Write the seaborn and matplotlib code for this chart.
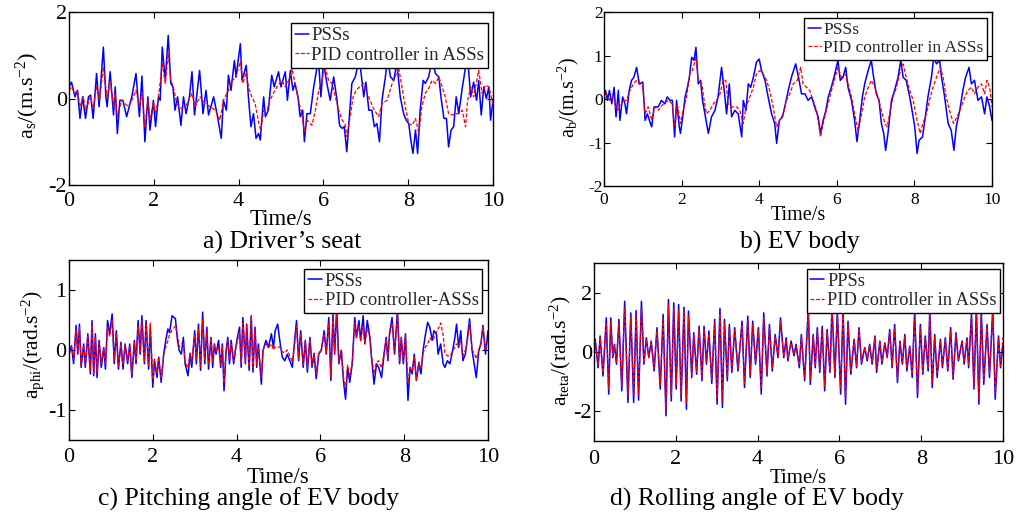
import seaborn as sns
import matplotlib.pyplot as plt

# ---- a) driver's seat ----
seat_pss_t = [0.00, 0.06, 0.14, 0.20, 0.26, 0.32, 0.39, 0.46, 0.51, 0.57,
              0.65, 0.71, 0.81, 0.87, 0.90, 0.97, 1.05, 1.09, 1.14, 1.20,
              1.27, 1.36, 1.48, 1.58, 1.66, 1.72, 1.79, 1.86, 1.91, 1.99,
              2.04, 2.11, 2.15, 2.20, 2.27, 2.34, 2.40, 2.45, 2.50, 2.56,
              2.64, 2.70, 2.76, 2.84, 2.90, 2.96, 3.08, 3.16, 3.23, 3.29,
              3.41, 3.49, 3.59, 3.64, 3.71, 3.76, 3.82, 3.90, 3.94, 4.04,
              4.08, 4.18, 4.23, 4.29, 4.35, 4.41, 4.47, 4.51, 4.59, 4.63,
              4.70, 4.78, 4.84, 4.94, 5.00, 5.04, 5.10, 5.15, 5.22, 5.28,
              5.33, 5.40, 5.45, 5.51, 5.55, 5.61, 5.69, 5.77, 5.85, 5.88,
              5.94, 6.00, 6.08, 6.16, 6.24, 6.32, 6.38, 6.44, 6.49, 6.55,
              6.61, 6.67, 6.75, 6.83, 6.88, 6.95, 7.00, 7.07, 7.14, 7.20,
              7.26, 7.32, 7.38, 7.46, 7.51, 7.58, 7.66, 7.73, 7.81, 7.89,
              7.95, 8.01, 8.06, 8.11, 8.17, 8.22, 8.28, 8.35, 8.40, 8.48,
              8.56, 8.64, 8.72, 8.77, 8.84, 8.90, 8.95, 9.01, 9.07, 9.13,
              9.19, 9.27, 9.35, 9.40, 9.47, 9.54, 9.61, 9.66, 9.72, 9.78,
              9.84, 9.90, 9.94, 10.00]
seat_pss = [0.27, 0.38, 0.04, 0.19, -0.46, 0.04, -0.46, 0.04, 0.08, -0.46,
            0.58, -0.19, 1.19, 0.04, -0.19, 0.62, -0.38, 0.27, -0.81, -0.04,
            -0.04, -0.42, 0.04, 0.58, -0.42, 0.52, -1.00, 0.04, -0.73, -0.04,
            -0.65, 0.04, -0.04, 1.19, 0.42, 1.46, 0.35, 0.27, -0.27, 0.04,
            -0.62, 0.04, -0.35, 0.04, 0.62, -0.38, 0.65, -0.35, 0.19, -0.38,
            0.04, -0.35, -0.92, -0.04, -0.27, 0.54, 0.19, 0.88, 0.50, 1.27,
            0.42, 0.77, 0.04, -0.65, -0.35, -0.92, -0.81, -0.96, 0.04, -0.42,
            -0.27, 0.54, 0.27, 0.62, 0.27, 0.42, 0.62, -0.04, 0.65, 0.19,
            0.35, 0.04, -0.42, -0.27, -1.00, -0.35, -0.35, 0.27, 0.73, 0.95,
            0.04, 0.85, 0.35, -0.04, 0.50, -0.04, -0.62, -0.69, -0.65, -1.23,
            -0.42, 0.35, 0.50, 0.85, 0.65, 0.04, 0.38, -0.27, -0.27, -0.65,
            -0.58, -1.00, -0.04, 0.50, 0.95, 0.50, 0.42, 0.85, 0.04, -0.35,
            -0.50, -0.58, -0.96, -1.27, -0.73, -1.27, -0.27, 0.42, 0.35, 0.50,
            0.90, 0.58, 0.50, 0.04, -0.46, -0.46, -1.12, -0.73, -0.65, 0.04,
            -0.35, 0.23, 0.73, 0.95, 0.04, 0.38, -0.04, 0.42, -0.38, 0.27,
            0.00, 0.27, -0.50, -0.04]
seat_pid_t = [0.00, 0.06, 0.14, 0.20, 0.26, 0.34, 0.39, 0.51, 0.57, 0.65,
              0.72, 0.81, 0.90, 0.97, 1.05, 1.09, 1.14, 1.24, 1.40, 1.48,
              1.58, 1.66, 1.72, 1.79, 1.86, 1.91, 1.99, 2.04, 2.11, 2.20,
              2.27, 2.34, 2.40, 2.46, 2.54, 2.64, 2.74, 2.90, 2.97, 3.09,
              3.21, 3.33, 3.45, 3.56, 3.64, 3.76, 3.84, 3.92, 4.04, 4.10,
              4.18, 4.23, 4.31, 4.39, 4.47, 4.52, 4.59, 4.67, 4.74, 4.82,
              4.90, 5.02, 5.10, 5.18, 5.26, 5.33, 5.41, 5.49, 5.55, 5.61,
              5.73, 5.81, 5.89, 5.96, 6.04, 6.12, 6.20, 6.28, 6.36, 6.44,
              6.51, 6.55, 6.63, 6.70, 6.77, 6.85, 6.95, 7.03, 7.10, 7.18,
              7.30, 7.38, 7.50, 7.62, 7.69, 7.77, 7.85, 7.93, 8.01, 8.09,
              8.17, 8.25, 8.32, 8.40, 8.48, 8.56, 8.64, 8.72, 8.80, 8.87,
              8.95, 9.03, 9.11, 9.19, 9.27, 9.35, 9.40, 9.47, 9.54, 9.66,
              9.74, 9.82, 9.90, 10.00]
seat_pid = [0.19, 0.27, 0.12, 0.19, -0.19, 0.04, -0.27, 0.04, -0.23, 0.27,
            -0.04, 0.73, 0.00, 0.42, -0.19, 0.12, -0.42, -0.04, -0.19, -0.04,
            0.19, -0.19, 0.12, -0.65, -0.04, -0.50, -0.08, -0.35, 0.04, 0.81,
            0.35, 1.04, 0.42, 0.27, -0.12, -0.23, -0.19, 0.12, -0.19, 0.04,
            -0.12, -0.19, -0.27, -0.50, -0.04, 0.19, 0.42, 0.46, 0.85, 0.35,
            0.62, 0.27, 0.04, -0.12, -0.54, -0.73, -0.27, -0.27, -0.04, 0.12,
            0.27, 0.42, 0.27, 0.42, 0.69, 0.35, -0.04, -0.35, -0.77, -0.50,
            -0.62, -0.27, 0.19, 0.42, 0.73, 0.42, 0.35, 0.04, -0.27, -0.50,
            -0.58, -0.88, -0.42, 0.04, 0.19, 0.27, 0.35, 0.12, -0.04, -0.23,
            -0.42, -0.12, -0.04, 0.35, 0.50, 0.73, 0.27, -0.19, -0.58, -0.62,
            -0.46, -0.81, -0.19, 0.12, 0.23, 0.42, 0.35, 0.50, 0.27, 0.04,
            -0.35, -0.38, -0.35, -0.35, -0.27, -0.65, -0.04, 0.27, 0.04, 0.65,
            0.12, 0.31, 0.27, -0.15]

# ---- b) EV body ----
body_pss_t = [0.00, 0.04, 0.09, 0.14, 0.20, 0.26, 0.31, 0.37, 0.41, 0.48,
              0.54, 0.58, 0.65, 0.71, 0.77, 0.84, 0.91, 1.00, 1.06, 1.12,
              1.17, 1.23, 1.29, 1.40, 1.48, 1.57, 1.63, 1.70, 1.76, 1.82,
              1.87, 1.94, 1.97, 2.03, 2.09, 2.15, 2.20, 2.26, 2.32, 2.37,
              2.43, 2.49, 2.54, 2.60, 2.69, 2.77, 2.86, 2.94, 3.03, 3.09,
              3.16, 3.23, 3.29, 3.37, 3.46, 3.55, 3.59, 3.66, 3.72, 3.78,
              3.85, 3.93, 4.00, 4.06, 4.15, 4.23, 4.32, 4.40, 4.45, 4.52,
              4.60, 4.66, 4.75, 4.83, 4.94, 5.03, 5.09, 5.18, 5.26, 5.35,
              5.43, 5.52, 5.58, 5.65, 5.72, 5.78, 5.86, 5.95, 6.03, 6.09,
              6.16, 6.23, 6.29, 6.38, 6.46, 6.52, 6.59, 6.66, 6.72, 6.81,
              6.89, 6.95, 7.02, 7.09, 7.15, 7.21, 7.26, 7.32, 7.41, 7.49,
              7.58, 7.65, 7.71, 7.79, 7.88, 7.97, 8.01, 8.07, 8.12, 8.21,
              8.27, 8.35, 8.44, 8.50, 8.57, 8.65, 8.70, 8.78, 8.87, 8.95,
              9.02, 9.08, 9.17, 9.25, 9.32, 9.41, 9.47, 9.55, 9.64, 9.73,
              9.81, 9.87, 9.94, 10.00]
body_pss = [0.05, 0.20, -0.03, 0.20, -0.11, 0.27, -0.41, 0.20, -0.49, 0.05,
            -0.11, -0.34, 0.20, 0.43, 0.50, 0.73, 0.35, 0.39, -0.49, -0.34,
            -0.49, -0.64, -0.18, -0.18, -0.03, -0.11, 0.05, -0.03, -0.03, -0.87,
            -0.03, -0.64, -0.79, -0.41, 0.05, 0.27, 0.50, 0.96, 0.89, 1.19,
            0.35, 0.43, -0.03, -0.34, -0.79, -0.41, -0.26, 0.05, 0.73, 0.27,
            -0.34, 0.35, -0.41, -0.26, -0.34, -0.87, -0.03, -0.26, 0.35, 0.27,
            0.50, 0.85, 0.92, 0.66, 0.43, 0.05, -0.34, -0.56, -1.02, -0.49,
            -0.41, -0.18, 0.20, 0.50, 0.81, 0.43, 0.12, 0.12, -0.03, 0.05,
            -0.18, -0.41, -0.79, -0.49, -0.26, 0.05, 0.27, 0.58, 0.89, 0.43,
            0.50, 0.73, 0.27, -0.03, -0.49, -0.98, -0.49, 0.05, 0.35, 0.66,
            0.89, 0.50, 0.12, -0.03, -0.56, -0.79, -1.18, -0.79, -0.03, 0.20,
            0.50, 0.89, 0.50, 0.43, 0.05, -0.41, -0.64, -1.25, -0.95, -0.87,
            -0.49, 0.05, 0.50, 0.96, 0.81, 0.89, 0.50, 0.05, -0.56, -0.72,
            -1.18, -0.64, -0.26, 0.20, 0.50, 0.73, 0.35, 0.43, -0.03, 0.05,
            -0.34, 0.05, -0.18, -0.49]
body_pid_t = [0.00, 0.07, 0.15, 0.24, 0.33, 0.41, 0.50, 0.58, 0.67, 0.76,
              0.84, 0.91, 1.00, 1.06, 1.14, 1.23, 1.31, 1.40, 1.53, 1.66,
              1.76, 1.82, 1.89, 1.97, 2.04, 2.13, 2.21, 2.28, 2.37, 2.43,
              2.52, 2.58, 2.64, 2.73, 2.82, 2.90, 2.99, 3.07, 3.14, 3.20,
              3.29, 3.42, 3.50, 3.59, 3.66, 3.76, 3.85, 3.93, 4.02, 4.10,
              4.19, 4.27, 4.36, 4.45, 4.53, 4.62, 4.70, 4.79, 4.88, 4.98,
              5.07, 5.13, 5.22, 5.30, 5.39, 5.48, 5.58, 5.65, 5.73, 5.82,
              5.91, 6.03, 6.12, 6.21, 6.29, 6.38, 6.46, 6.55, 6.64, 6.72,
              6.81, 6.89, 6.98, 7.06, 7.15, 7.24, 7.30, 7.36, 7.45, 7.54,
              7.62, 7.71, 7.79, 7.88, 7.97, 8.07, 8.15, 8.22, 8.31, 8.39,
              8.48, 8.57, 8.67, 8.74, 8.82, 8.93, 9.01, 9.10, 9.21, 9.30,
              9.38, 9.47, 9.55, 9.64, 9.73, 9.81, 9.87, 9.94, 10.00]
body_pid = [-0.03, 0.12, -0.03, 0.05, -0.26, -0.18, -0.03, -0.03, 0.20, 0.35,
            0.43, 0.35, 0.27, -0.34, -0.18, -0.49, -0.18, -0.26, -0.11, -0.03,
            -0.11, -0.64, -0.11, -0.56, -0.26, 0.05, 0.58, 0.66, 0.96, 0.43,
            0.35, -0.03, -0.34, -0.26, -0.11, -0.03, 0.12, 0.43, 0.43, -0.11,
            -0.18, -0.18, -0.26, -0.56, -0.18, 0.05, 0.27, 0.58, 0.66, 0.58,
            0.43, 0.20, -0.18, -0.64, -0.49, -0.34, -0.03, 0.12, 0.35, 0.43,
            0.73, 0.35, 0.27, 0.20, -0.03, -0.26, -0.87, -0.56, -0.26, 0.05,
            0.35, 0.73, 0.50, 0.58, 0.35, 0.05, -0.34, -0.72, -0.34, 0.05,
            0.27, 0.43, 0.27, 0.05, -0.26, -0.56, -0.64, -0.34, 0.05, 0.27,
            0.58, 0.81, 0.50, 0.20, -0.03, -0.49, -0.79, -0.56, -0.34, -0.03,
            0.27, 0.50, 0.73, 0.50, 0.05, -0.34, -0.56, -0.41, -0.18, 0.05,
            0.20, 0.27, 0.12, 0.27, 0.35, 0.12, 0.43, 0.27, -0.18]

# ---- c) pitching angle ----
pitch_t = [0.00, 0.06, 0.11, 0.17, 0.21, 0.25, 0.29, 0.35, 0.39, 0.45,
           0.51, 0.55, 0.59, 0.63, 0.67, 0.72, 0.77, 0.83, 0.87, 0.92,
           0.97, 1.03, 1.08, 1.13, 1.18, 1.24, 1.29, 1.34, 1.40, 1.45,
           1.50, 1.56, 1.60, 1.65, 1.70, 1.74, 1.80, 1.84, 1.90, 1.94,
           2.00, 2.04, 2.10, 2.14, 2.20, 2.26, 2.31, 2.36, 2.40, 2.46,
           2.54, 2.59, 2.63, 2.68, 2.73, 2.77, 2.84, 2.89, 2.93, 3.00,
           3.04, 3.09, 3.14, 3.19, 3.24, 3.29, 3.33, 3.39, 3.43, 3.47,
           3.51, 3.57, 3.62, 3.66, 3.70, 3.75, 3.79, 3.83, 3.87, 3.93,
           3.97, 4.02, 4.07, 4.11, 4.15, 4.21, 4.24, 4.30, 4.35, 4.39,
           4.44, 4.48, 4.52, 4.59, 4.63, 4.70, 4.76, 4.83, 4.88, 4.92,
           4.98,
           5.03, 5.09, 5.15, 5.21, 5.27, 5.33, 5.37, 5.43, 5.48, 5.53,
           5.59, 5.64, 5.69, 5.75, 5.80, 5.85, 5.90, 5.96, 6.02, 6.09,
           6.14, 6.20, 6.25, 6.30, 6.34, 6.39, 6.44, 6.50, 6.55, 6.60,
           6.65, 6.70, 6.76, 6.82, 6.86, 6.92, 6.96, 7.02, 7.06, 7.12,
           7.18, 7.22, 7.28, 7.34, 7.39, 7.46, 7.52, 7.57, 7.61, 7.65,
           7.71, 7.77, 7.84, 7.89, 7.93, 7.98, 8.03, 8.09, 8.14, 8.19,
           8.24, 8.29, 8.35, 8.40, 8.45, 8.51, 8.56, 8.61, 8.67, 8.71,
           8.77, 8.81, 8.87, 8.93, 8.97, 9.03, 9.09, 9.14, 9.21, 9.25,
           9.30, 9.35, 9.40, 9.46, 9.51, 9.56, 9.62, 9.67, 9.72, 9.78,
           9.83, 9.88, 9.94, 10.00]
pitch_pss = [-0.07, 0.07, -0.23, 0.41, -0.07, 0.43, -0.29, 0.10, -0.29, 0.27,
             -0.40, 0.49, -0.43, 0.27, -0.46, 0.16, -0.29, 0.04, -0.32, 0.49,
             0.27, 0.60, -0.23, 0.32, -0.32, 0.13, -0.32, 0.10, -0.23, 0.10,
             -0.46, 0.16, -0.23, 0.49, -0.07, 0.57, -0.23, 0.49, -0.32, 0.38,
             -0.62, -0.18, -0.46, -0.12, -0.54, -0.07, 0.16, 0.35, 0.29, 0.57,
             0.52, 0.16, -0.01, -0.07, 0.21, -0.23, -0.43, -0.07, -0.29, 0.32,
             -0.23, 0.43, -0.34, 0.63, -0.23, 0.38, -0.32, 0.21, -0.29, 0.10,
             -0.07, 0.16, -0.29, 0.10, -0.68, -0.01, 0.21, -0.23, 0.16, -0.23,
             -0.01, 0.21, 0.38, -0.29, 0.54, -0.23, 0.43, -0.34, 0.57, -0.37,
             0.38, -0.29, 0.10, -0.57, -0.01, 0.16, 0.04, 0.27, 0.04, 0.32,
             0.43,
             0.16, -0.12, -0.18, -0.07, -0.18, -0.29, 0.04, 0.49, -0.18, 0.32,
             -0.29, 0.16, -0.37, 0.21, -0.29, -0.07, -0.48, -0.07, -0.01, 0.32,
             -0.07, 0.54, -0.51, 0.60, -0.07, 0.71, -0.23, -0.01, -0.51, -0.82,
             -0.29, -0.54, -0.23, 0.54, 0.21, 0.49, 0.16, 0.57, 0.10, 0.49,
             0.21, -0.12, -0.57, -0.23, -0.29, -0.46, -0.07, 0.21, -0.18, 0.27,
             0.54, -0.07, 0.66, -0.23, 0.21, -0.23, 0.27, -0.84, -0.29, -0.40,
             -0.07, -0.51, -0.23, -0.40, -0.01, 0.27, 0.46, 0.38, 0.16, 0.32,
             0.27, -0.07, 0.10, -0.23, -0.29, -0.18, -0.23, -0.07, 0.21, 0.43,
             0.04, 0.32, -0.18, -0.07, 0.21, 0.52, -0.01, -0.23, -0.46, -0.01,
             0.10, 0.41, -0.07, 0.32]
pitch_pid = [-0.05, 0.05, -0.15, 0.35, -0.05, 0.38, -0.25, 0.08, -0.25, 0.22,
             -0.35, 0.42, -0.38, 0.22, -0.38, 0.12, -0.22, 0.03, -0.25, 0.40,
             0.22, 0.50, -0.18, 0.28, -0.28, 0.10, -0.25, 0.08, -0.18, 0.08,
             -0.40, 0.12, -0.18, 0.40, -0.05, 0.48, -0.20, 0.42, -0.28, 0.45,
             -0.50, -0.15, -0.38, -0.12, -0.48, -0.08, 0.05, 0.15, 0.25, 0.33,
             0.40, 0.25, 0.05, 0.10, 0.10, -0.20, -0.30, -0.05, -0.20, 0.25,
             -0.15, 0.35, -0.28, 0.50, -0.18, 0.30, -0.25, 0.20, -0.20, 0.08,
             -0.02, 0.05, -0.25, 0.05, -0.55, 0.00, 0.15, -0.15, 0.10, -0.18,
             -0.01, 0.15, 0.30, -0.22, 0.45, -0.20, 0.40, -0.28, 0.57, -0.30,
             0.35, -0.25, 0.05, -0.45, 0.00, 0.10, 0.04, 0.10, 0.00, 0.05,
             0.05,
             0.05, -0.03, -0.05, 0.00, -0.10, -0.20, 0.00, 0.40, -0.15, 0.28,
             -0.25, 0.15, -0.30, 0.18, -0.25, -0.05, -0.40, -0.05, 0.00, 0.25,
             -0.05, 0.45, -0.45, 0.55, -0.05, 0.65, -0.20, 0.00, -0.45, -0.65,
             -0.25, -0.45, -0.20, 0.45, 0.20, 0.40, 0.15, 0.40, 0.10, 0.35,
             0.25, -0.10, -0.40, -0.20, -0.18, -0.30, -0.05, 0.18, -0.15, 0.25,
             0.45, -0.05, 0.60, -0.20, 0.20, -0.20, 0.25, -0.55, -0.30, -0.35,
             -0.10, -0.50, -0.20, -0.30, -0.05, 0.05, 0.10, 0.20, 0.15, 0.20,
             0.30, 0.35, 0.45, 0.25, -0.05, -0.10, -0.10, -0.05, 0.05, 0.10,
             0.08, 0.15, -0.10, 0.00, 0.15, 0.45, 0.00, -0.05, -0.15, 0.00,
             0.10, 0.38, 0.00, 0.20]

# ---- d) rolling angle ----
roll_t = [0.00, 0.03, 0.10, 0.15, 0.22, 0.30, 0.36, 0.41, 0.46, 0.50, 0.55,
          0.61, 0.68, 0.75, 0.83, 0.90, 0.97, 1.03, 1.09, 1.16, 1.22,
          1.28, 1.34, 1.40, 1.47, 1.54, 1.62, 1.69, 1.76, 1.82, 1.89,
          1.95, 2.01, 2.07, 2.13, 2.20, 2.26, 2.31, 2.39, 2.44, 2.51,
          2.57, 2.64, 2.69, 2.75, 2.81, 2.88, 2.95, 3.01, 3.08, 3.14,
          3.19, 3.26, 3.31, 3.37, 3.44, 3.52, 3.62, 3.68, 3.76, 3.82,
          3.88, 3.95, 4.02, 4.09, 4.15, 4.23, 4.29, 4.36, 4.43, 4.50,
          4.56, 4.64, 4.70, 4.74, 4.82, 4.89, 4.94, 5.02,
          5.07, 5.15, 5.24, 5.29, 5.36, 5.41, 5.46, 5.52, 5.58, 5.64,
          5.70, 5.77, 5.82, 5.89, 5.95, 6.03, 6.09, 6.15, 6.21, 6.28,
          6.36, 6.42, 6.48, 6.54, 6.62, 6.68, 6.74, 6.80, 6.87, 6.91,
          6.99, 7.04, 7.11, 7.17, 7.23, 7.29, 7.35, 7.42, 7.48, 7.54,
          7.60, 7.65, 7.72, 7.78, 7.84, 7.91, 7.98, 8.04, 8.10, 8.17,
          8.21, 8.27, 8.33, 8.39, 8.47, 8.52, 8.59, 8.65, 8.72, 8.78,
          8.85, 8.91, 9.00, 9.05, 9.12, 9.16, 9.23, 9.29, 9.35, 9.41,
          9.47, 9.53, 9.61, 9.67, 9.75, 9.81, 9.89, 9.94, 10.00]
roll_pss = [0.20, 0.43, -0.53, 0.54, -0.81, 1.15, -1.42, 1.15, -0.19, 0.26, -0.41,
            1.10, -1.31, 1.71, -1.70, 1.32, -1.70, 1.40, -1.62, 1.71, -0.41,
            0.48, -0.19, 0.37, -0.64, 0.82, -1.25, 1.27, -2.15, 1.77, -1.65,
            1.66, -1.25, 1.60, -1.65, 1.51, -1.93, 1.38, -0.86, 0.65, -0.75,
            0.87, -0.97, 0.87, -0.41, 0.71, -1.06, 1.10, -1.76, 1.47, -1.87,
            1.10, -0.97, 0.93, -0.69, 0.82, -0.64, 1.04, -1.20, 1.21, -0.86,
            1.04, -0.41, 0.82, -1.42, 1.32, -0.81, 0.93, -0.64, 0.59, -0.19,
            1.15, -0.19, 0.48, -0.30, 0.37, -0.13, 0.26, -0.53,
            0.59, -0.97, 1.49, -1.09, 0.59, -0.53, 0.82, -0.69, 0.87, -1.31,
            0.76, -0.69, 1.60, -0.86, 1.40, -1.42, 1.49, -1.76, 1.04, -0.75,
            0.43, -0.53, 0.82, -0.41, 0.15, -0.30, 0.26, -0.41, 0.54, -0.69,
            0.37, -0.41, 0.31, -0.19, 0.76, -0.53, 0.93, -1.03, 0.37, -0.41,
            0.59, -0.64, 0.20, -0.86, 1.40, -1.53, 0.93, -0.75, 0.54, -0.64,
            1.45, -1.20, 0.59, -0.86, 0.43, -0.53, 0.48, -0.64, 0.82, -0.92,
            0.65, -0.30, 0.37, -0.41, 0.48, -0.53, 1.30, -1.25, 1.50, -1.76,
            1.40, -1.09, 0.93, -0.86, 1.50, -1.59, 0.54, -0.53, 0.26]
roll_pid = [0.15, 0.38, -0.45, 0.48, -0.70, 1.00, -1.25, 1.00, -0.15, 0.22, -0.36,
            0.95, -1.15, 1.52, -1.48, 1.18, -1.50, 1.25, -1.42, 1.52, -0.36,
            0.42, -0.16, 0.32, -0.55, 0.72, -1.10, 1.12, -1.95, 1.58, -1.45,
            1.48, -1.10, 1.42, -1.45, 1.35, -1.72, 1.22, -0.76, 0.56, -0.66,
            0.78, -0.85, 0.77, -0.36, 0.62, -0.94, 0.98, -1.55, 1.30, -1.65,
            0.98, -0.86, 0.82, -0.60, 0.72, -0.56, 0.92, -1.05, 1.07, -0.76,
            0.92, -0.36, 0.72, -1.25, 1.17, -0.71, 0.82, -0.56, 0.52, -0.16,
            1.02, -0.15, 0.40, -0.22, 0.30, -0.08, 0.20, -0.45,
            0.52, -0.85, 1.32, -0.96, 0.52, -0.47, 0.72, -0.61, 0.77, -1.15,
            0.67, -0.61, 1.42, -0.76, 1.23, -1.25, 1.32, -1.55, 0.92, -0.66,
            0.40, -0.47, 0.72, -0.36, 0.15, -0.25, 0.23, -0.36, 0.48, -0.62,
            0.34, -0.36, 0.28, -0.17, 0.67, -0.47, 0.82, -0.92, 0.33, -0.36,
            0.52, -0.56, 0.20, -0.76, 1.23, -1.35, 0.82, -0.66, 0.48, -0.56,
            1.28, -1.05, 0.52, -0.76, 0.38, -0.47, 0.42, -0.56, 0.72, -0.82,
            0.57, -0.27, 0.33, -0.36, 0.42, -0.47, 1.15, -1.10, 1.32, -1.55,
            1.23, -0.96, 0.82, -0.76, 1.32, -1.40, 0.48, -0.47, 0.50]

sns.set_theme(style="ticks")
plt.rcParams['font.family'] = ['Liberation Serif', 'DejaVu Serif']
plt.rcParams['mathtext.fontset'] = 'custom'
plt.rcParams['mathtext.rm'] = 'Liberation Serif'
plt.rcParams['mathtext.it'] = 'Liberation Serif:italic'
plt.rcParams['axes.unicode_minus'] = False

BLUE = '#0000ff'
RED = '#ff0000'

fig = plt.figure(figsize=(10.22, 5.16), dpi=100)

panels = [
    dict(rect=[0.0675, 0.6415, 0.415, 0.335], t1=seat_pss_t, y1=seat_pss, t2=seat_pid_t, y2=seat_pid,
         lab1='PSSs', lab2='PID controller in ASSs', ylim=(-2, 2), yticks=[-2, 0, 2],
         ylabel=r'a$_{\mathrm{s}}$/(m.s$^{\mathrm{-2}}$)', fs=16, lfs=13.5, xfs=16.5, yfs=16,
         xl=(0.5, -0.2), yl=(-0.097, 0.52), leg=(0.988, 0.936),
         caption=u'a) Driver\u2019s seat', cap=(282, 242), xpad=5, ypad=1.5),
    dict(rect=[0.591, 0.6395, 0.3796, 0.337], t1=body_pss_t, y1=body_pss, t2=body_pid_t, y2=body_pid,
         lab1='PSSs', lab2='PID controller in ASSs', ylim=(-2, 2), yticks=[-2, -1, 0, 1, 2],
         ylabel=r'a$_{\mathrm{b}}$/(m.s$^{\mathrm{-2}}$)', fs=12.5, lfs=12.5, xfs=14.5, yfs=14.5,
         xl=(0.5, -0.167), yl=(-0.093, 0.506), leg=(0.987, 0.966),
         caption='b) EV body', cap=(800, 242), xpad=4, ypad=1),
    dict(rect=[0.0675, 0.1473, 0.41, 0.349], t1=pitch_t, y1=pitch_pss, t2=pitch_t, y2=pitch_pid,
         lab1='PSSs', lab2='PID controller-ASSs', ylim=(-1.5, 1.5), yticks=[-1, 0, 1],
         ylabel=r'a$_{\mathrm{phi}}$/(rad.s$^{\mathrm{-2}}$)', fs=16, lfs=13.3, xfs=16.5, yfs=15.5,
         xl=(0.5, -0.211), yl=(-0.086, 0.53), leg=(0.986, 0.95),
         caption='c) Pitching angle of EV body', cap=(248, 499), xpad=6, ypad=2),
    dict(rect=[0.5812, 0.1453, 0.4002, 0.345], t1=roll_t, y1=roll_pss, t2=roll_t, y2=roll_pid,
         lab1='PPSs', lab2='PID controller in ASSs', ylim=(-3, 3), yticks=[-2, 0, 2],
         ylabel=r'a$_{\mathrm{teta}}$/(rad.s$^{\mathrm{-2}}$)', fs=16, lfs=13.2, xfs=15, yfs=15.5,
         xl=(0.5, -0.208), yl=(-0.083, 0.51), leg=(0.993, 0.966),
         caption='d) Rolling angle of EV body', cap=(757, 499), xpad=6.5, ypad=1.5),
]

for p in panels:
    ax = fig.add_axes(p['rect'])
    sns.lineplot(x=p['t1'], y=p['y1'], ax=ax, color=BLUE, linewidth=1.1,
                 label=p['lab1'], estimator=None, errorbar=None)
    sns.lineplot(x=p['t2'], y=p['y2'], ax=ax, color=RED, linewidth=0.9,
                 linestyle=(0, (3, 1.5)), label=p['lab2'], estimator=None, errorbar=None)
    ax.set_xlim(0, 10)
    ax.set_ylim(*p['ylim'])
    ax.set_xticks([0, 2, 4, 6, 8, 10])
    ax.set_yticks(p['yticks'])
    ax.tick_params(direction='in', top=True, right=True, length=4, width=0.8,
                   color='black', labelsize=p['fs'], labelcolor='black')
    ax.tick_params(axis='x', pad=p['xpad'])
    ax.tick_params(axis='y', pad=p['ypad'])
    for s in ax.spines.values():
        s.set_color('black')
        s.set_linewidth(1.0)
    ax.set_xlabel('Time/s', fontsize=p['xfs'], color='black')
    ax.xaxis.label.set_va('center')
    ax.xaxis.set_label_coords(*p['xl'])
    ax.set_ylabel(p['ylabel'], fontsize=p['yfs'], color='black')
    ax.yaxis.label.set_va('center')
    ax.yaxis.set_label_coords(*p['yl'])
    leg = ax.legend(loc='upper right', bbox_to_anchor=p['leg'], borderaxespad=0,
                    fontsize=p['lfs'], frameon=True, fancybox=False, framealpha=1,
                    edgecolor='black', handlelength=0.75, handletextpad=0.15,
                    labelspacing=0.15, borderpad=0.2)
    leg.get_frame().set_linewidth(1.0)
    fig.text(p['cap'][0] / 1022, 1 - p['cap'][1] / 516, p['caption'],
             ha='center', va='center', fontsize=18.5, color='black')

fig.savefig('out.png', dpi=100)
